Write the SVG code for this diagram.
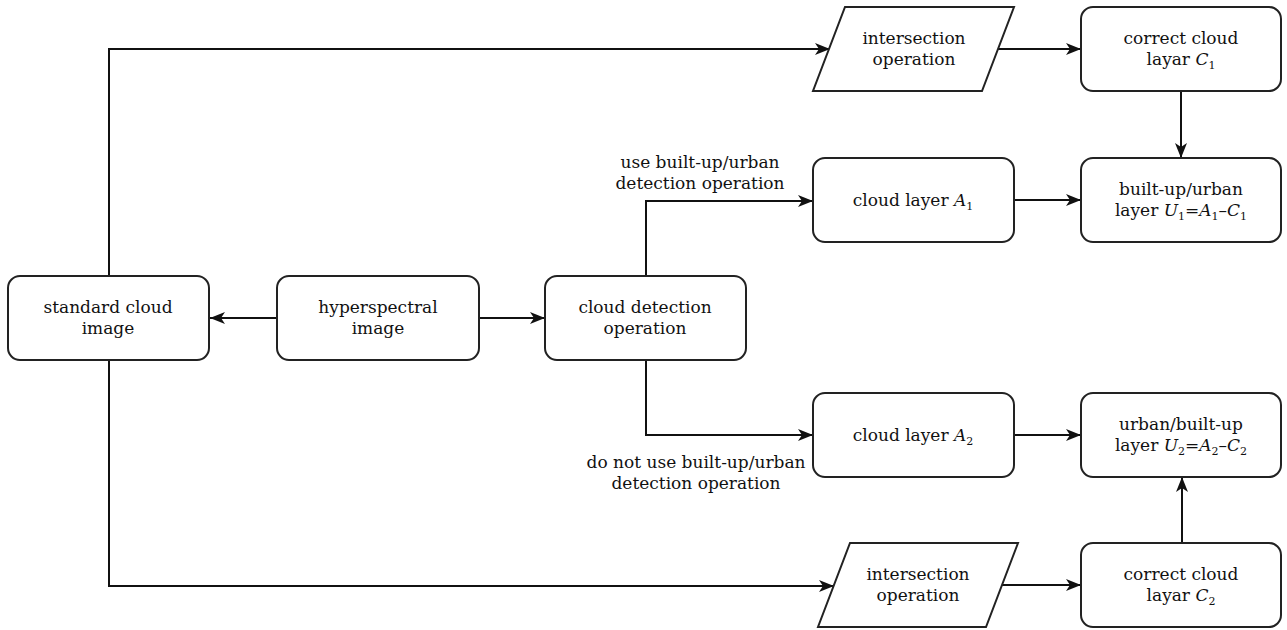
<svg xmlns="http://www.w3.org/2000/svg" width="1287" height="630" viewBox="0 0 1287 630">
<style>
.box{fill:#fff;stroke:#222;stroke-width:2}
.ln{fill:none;stroke:#111;stroke-width:2;marker-end:url(#ah)}
text{font-family:"DejaVu Serif","Liberation Serif",serif;font-size:17px;fill:#111;text-anchor:middle}
.i{font-style:italic}
.s{font-size:11px}
</style>
<defs>
<marker id="ah" markerUnits="userSpaceOnUse" markerWidth="16" markerHeight="12" refX="15" refY="6" orient="auto">
<path d="M0,0 L15,6 L0,12 L4,6 z" fill="#111"/>
</marker>
</defs>
<rect width="1287" height="630" fill="#fff"/>
<g id="connectors">
<path class="ln" d="M277,318 H210"/>
<path class="ln" d="M479,318 H545"/>
<path class="ln" d="M646,276 V201 H813"/>
<path class="ln" d="M646,360 V435 H813"/>
<path class="ln" d="M1014,200 H1081"/>
<path class="ln" d="M1014,435 H1081"/>
<path class="ln" d="M1181,91 V158"/>
<path class="ln" d="M1182,543 V477"/>
<path class="ln" d="M109,276 V49 H830"/>
<path class="ln" d="M109,360 V586 H834"/>
<path class="ln" d="M998,49 H1081"/>
<path class="ln" d="M1002,585 H1081"/>
</g>
<g id="label-use">
<text x="700" y="168">use built-up/urban</text>
<text x="700" y="189">detection operation</text>
</g>
<g id="label-donot">
<text x="696" y="468">do not use built-up/urban</text>
<text x="696" y="489">detection operation</text>
</g>
<g id="standard">
<rect class="box" x="8" y="276" width="201" height="84" rx="12"/>
<text x="108" y="313">standard cloud</text>
<text x="108" y="334">image</text>
</g>
<g id="hyper">
<rect class="box" x="277" y="276" width="202" height="84" rx="12"/>
<text x="378" y="313">hyperspectral</text>
<text x="378" y="334">image</text>
</g>
<g id="detect">
<rect class="box" x="545" y="276" width="201" height="84" rx="12"/>
<text x="645" y="313">cloud detection</text>
<text x="645" y="334">operation</text>
</g>
<g id="a1">
<rect class="box" x="813" y="158" width="201" height="84" rx="12"/>
<text x="913" y="206">cloud layer <tspan class="i">A</tspan><tspan class="s" dy="4">1</tspan></text>
</g>
<g id="a2">
<rect class="box" x="813" y="393" width="201" height="84" rx="12"/>
<text x="913" y="441">cloud layer <tspan class="i">A</tspan><tspan class="s" dy="4">2</tspan></text>
</g>
<g id="u1">
<rect class="box" x="1081" y="158" width="200" height="84" rx="12"/>
<text x="1181" y="195">built-up/urban</text>
<text x="1181" y="216">layer <tspan class="i">U</tspan><tspan class="s" dy="4">1</tspan><tspan dy="-4">=</tspan><tspan class="i">A</tspan><tspan class="s" dy="4">1</tspan><tspan dy="-4">–</tspan><tspan class="i">C</tspan><tspan class="s" dy="4">1</tspan></text>
</g>
<g id="u2">
<rect class="box" x="1081" y="393" width="200" height="84" rx="12"/>
<text x="1181" y="430">urban/built-up</text>
<text x="1181" y="451">layer <tspan class="i">U</tspan><tspan class="s" dy="4">2</tspan><tspan dy="-4">=</tspan><tspan class="i">A</tspan><tspan class="s" dy="4">2</tspan><tspan dy="-4">–</tspan><tspan class="i">C</tspan><tspan class="s" dy="4">2</tspan></text>
</g>
<g id="c1">
<rect class="box" x="1081" y="7" width="200" height="84" rx="12"/>
<text x="1181" y="44">correct cloud</text>
<text x="1181" y="65">layar <tspan class="i">C</tspan><tspan class="s" dy="4">1</tspan></text>
</g>
<g id="c2">
<rect class="box" x="1081" y="543" width="200" height="84" rx="12"/>
<text x="1181" y="580">correct cloud</text>
<text x="1181" y="601">layar <tspan class="i">C</tspan><tspan class="s" dy="4">2</tspan></text>
</g>
<g id="int1">
<polygon class="box" points="845,7 1014,7 982,91 813,91"/>
<text x="914" y="44">intersection</text>
<text x="914" y="65">operation</text>
</g>
<g id="int2">
<polygon class="box" points="850,543 1018,543 986,627 818,627"/>
<text x="918" y="580">intersection</text>
<text x="918" y="601">operation</text>
</g>
</svg>
